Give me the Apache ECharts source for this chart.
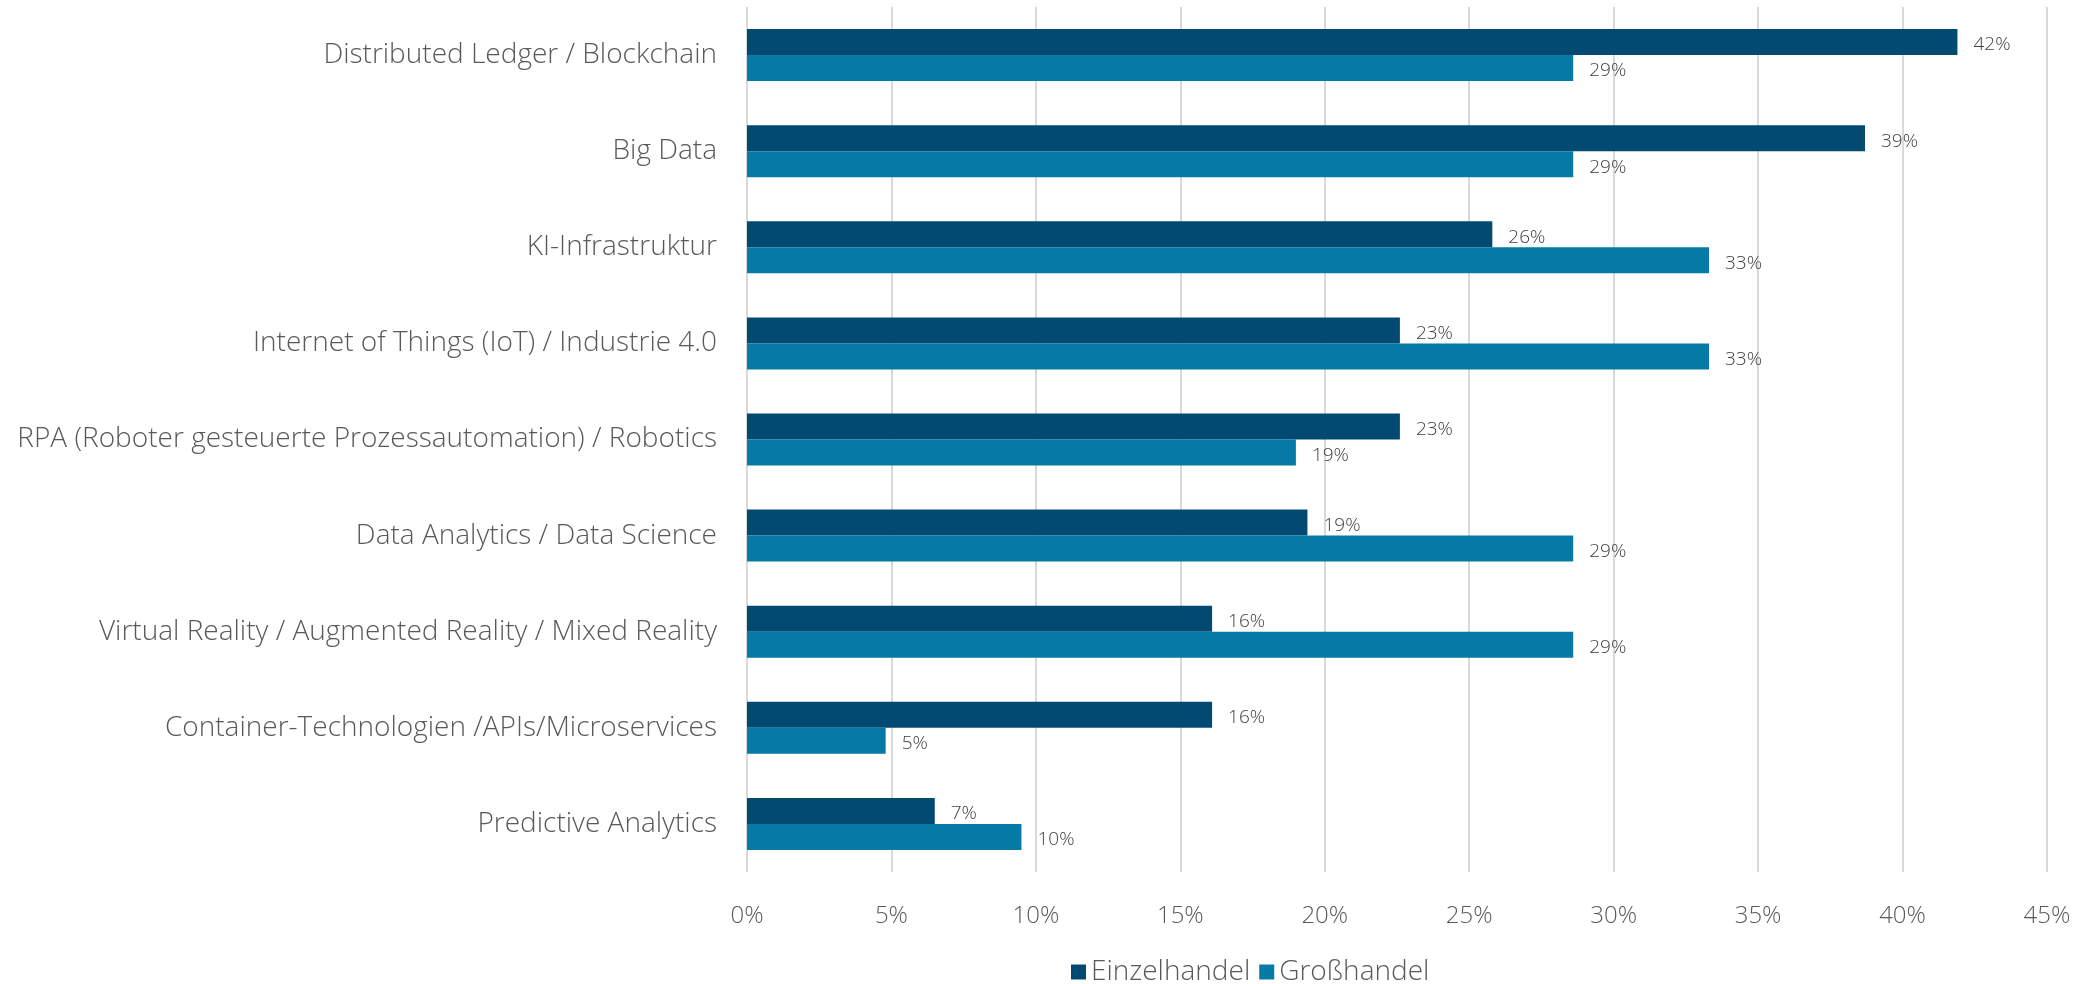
<!DOCTYPE html>
<html><head><meta charset="utf-8">
<script src="https://cdn.jsdelivr.net/npm/echarts@6/dist/echarts.min.js"></script>
<style>html,body{margin:0;padding:0;background:#fff}#c{width:2094px;height:984px}</style>
</head><body><div id="c"></div>
<script>
const categories = [
  "Distributed Ledger / Blockchain",
  "Big Data",
  "KI-Infrastruktur",
  "Internet of Things (IoT) / Industrie 4.0",
  "RPA (Roboter gesteuerte Prozessautomation) / Robotics",
  "Data Analytics / Data Science",
  "Virtual Reality / Augmented Reality / Mixed Reality",
  "Container-Technologien /APIs/Microservices",
  "Predictive Analytics"
];
const einzelhandel = [41.9, 38.7, 25.8, 22.6, 22.6, 19.4, 16.1, 16.1, 6.5];
const grosshandel = [28.6, 28.6, 33.3, 33.3, 19.0, 28.6, 28.6, 4.8, 9.5];
const seriesNames = ["Einzelhandel", "Großhandel"];
const xTicks = {min: 0, max: 45, interval: 5};

const FONT = "'Segoe UI Light','Open Sans',sans-serif";
const TXT = '#595959';
const chart = echarts.init(document.getElementById('c'));
const lbl = {
  show: true, position: 'right', distance: 16, offset: [0, 3],
  formatter: p => Math.round(p.value) + '%',
  fontFamily: FONT, fontWeight: 300, fontSize: 19, color: '#404040'
};
chart.setOption({
  animation: false,
  textStyle: {fontFamily: FONT},
  grid: {left: 747, right: 47, top: 7, bottom: 112, containLabel: false},
  legend: {
    data: seriesNames, left: 1066, top: 953, itemWidth: 15, itemHeight: 15,
    itemGap: 9, icon: 'rect',
    textStyle: {fontFamily: FONT, fontWeight: 300, fontSize: 28, color: TXT, padding: [0,0,0,0]}
  },
  xAxis: {
    type: 'value', min: xTicks.min, max: xTicks.max, interval: xTicks.interval,
    axisLine: {show: false}, axisTick: {show: false},
    splitLine: {show: true, lineStyle: {color: '#d9d9d9', width: 2}},
    axisLabel: {formatter: v => v + '%', margin: 32, fontFamily: FONT, fontWeight: 300, fontSize: 24, color: TXT}
  },
  yAxis: {
    type: 'category', data: categories, inverse: true,
    axisLine: {show: false}, axisTick: {show: false},
    axisLabel: {margin: 30, fontFamily: FONT, fontWeight: 300, fontSize: 28, color: TXT}
  },
  series: [
    {name: seriesNames[0], type: 'bar', data: einzelhandel, barWidth: 26, barGap: '0%',
     itemStyle: {color: '#034a72'}, label: lbl},
    {name: seriesNames[1], type: 'bar', data: grosshandel, barWidth: 26, barGap: '0%',
     itemStyle: {color: '#0779a6'}, label: lbl}
  ]
});
</script></body></html>
